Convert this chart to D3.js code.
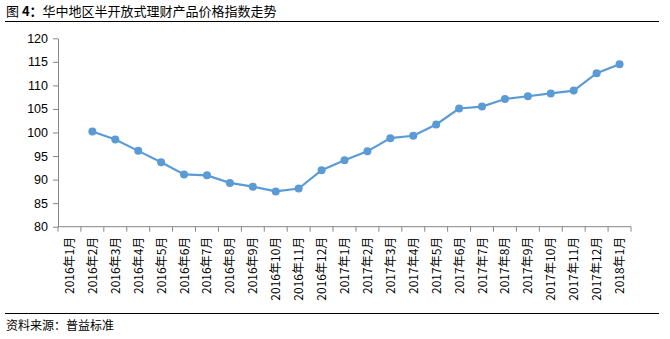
<!DOCTYPE html>
<html><head><meta charset="utf-8">
<script src="https://cdn.jsdelivr.net/npm/d3@7"></script>
<style>body{margin:0;background:#fff}svg{display:block}</style>
</head><body>
<svg id="c" width="670" height="339"></svg>
<script>
const categories = ["2016年1月","2016年2月","2016年3月","2016年4月","2016年5月","2016年6月","2016年7月","2016年8月","2016年9月","2016年10月","2016年11月","2016年12月","2017年1月","2017年2月","2017年3月","2017年4月","2017年5月","2017年6月","2017年7月","2017年8月","2017年9月","2017年10月","2017年11月","2017年12月","2018年1月"];
const values = [null,100.2,98.5,96.1,93.7,91.1,90.9,89.3,88.5,87.5,88.1,92.0,94.1,96.0,98.8,99.3,101.7,105.1,105.5,107.1,107.7,108.3,108.9,112.6,114.5];
const yTicks = [80,85,90,95,100,105,110,115,120];
const titleText = "华中地区半开放式理财产品价格指数走势";
const sourceText = "资料来源：普益标准";

const svg = d3.select("#c");
const font = "'Noto Sans CJK SC','Microsoft YaHei',sans-serif";
const x = d3.scaleBand().domain(categories).range([58, 631]);
const y = d3.scaleLinear().domain([80,120]).range([226.7, 38.3]);

// title
const t = svg.append("text").attr("x",6).attr("y",16).attr("font-family",font).attr("font-size",13).attr("fill","#000");
t.append("tspan").text("图 ");
t.append("tspan").attr("font-weight","bold").text("4：");
t.append("tspan").text(titleText);
svg.append("line").attr("x1",5).attr("x2",659).attr("y1",21.5).attr("y2",21.5).attr("stroke","#000").attr("stroke-width",1.2);

// axes
const axisColor = "#868686";
const ya = svg.append("g").attr("transform","translate(58,0)")
  .call(d3.axisLeft(y).tickValues(yTicks).tickSize(5).tickSizeOuter(0));
ya.select(".domain").attr("stroke",axisColor);
ya.selectAll(".tick line").attr("stroke",axisColor);
ya.selectAll(".tick text").attr("font-family","'Liberation Sans',Arial,sans-serif").attr("font-size",12.5).attr("fill","#000").attr("x",-10);

const xa = svg.append("g").attr("transform","translate(0,226.7)");
xa.append("line").attr("x1",58).attr("x2",631).attr("stroke",axisColor);
const bounds = categories.map(c => x(c)).concat([x.range()[1]]);
xa.selectAll(".tk").data(bounds).enter().append("line")
  .attr("x1",d=>d).attr("x2",d=>d).attr("y1",0).attr("y2",5).attr("stroke",axisColor);
xa.selectAll(".lb").data(categories).enter().append("text")
  .attr("transform",d=>`translate(${x(d)+x.bandwidth()/2+4.5},10) rotate(-90)`)
  .attr("text-anchor","end")
  .attr("font-family",font).attr("font-size",12).attr("fill","#000")
  .text(d=>d);

// line
const pts = categories.map((c,i)=>({c, v: values[i]})).filter(d=>d.v!=null);
const color = "#5B9BD5";
svg.append("path").datum(pts)
  .attr("d", d3.line().x(d=>x(d.c)+x.bandwidth()/2).y(d=>y(d.v)))
  .attr("fill","none").attr("stroke",color).attr("stroke-width",2.2);
svg.selectAll(".pt").data(pts).enter().append("circle")
  .attr("cx",d=>x(d.c)+x.bandwidth()/2).attr("cy",d=>y(d.v)).attr("r",4)
  .attr("fill",color);

// source
svg.append("line").attr("x1",5).attr("x2",659).attr("y1",313.5).attr("y2",313.5).attr("stroke","#000").attr("stroke-width",1.2);
svg.append("text").attr("x",6).attr("y",330).attr("font-family",font).attr("font-size",12).attr("fill","#000").text(sourceText);
</script>
</body></html>
